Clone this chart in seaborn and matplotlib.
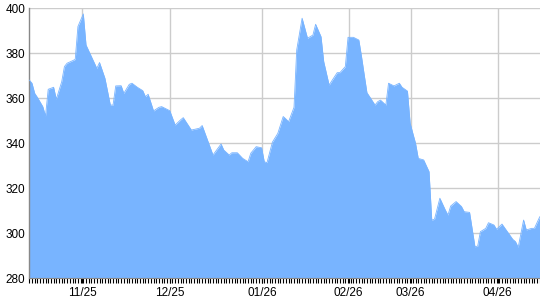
import matplotlib
matplotlib.use("Agg")
import matplotlib.pyplot as plt
import seaborn as sns
import pandas as pd
from matplotlib.ticker import MultipleLocator, FixedLocator

# ---- data (day index along the axis, value) ----
days = [0, 1, 2, 3, 5, 6, 7, 9, 10, 12, 13, 14, 16, 17, 18, 20, 21, 24, 25, 26,
        28, 30, 31, 32, 34, 35, 37, 38, 40, 42, 43, 44, 46, 48, 49, 51, 52, 54, 56, 57,
        60, 63, 64, 68, 71, 72, 74, 75, 77, 79, 81, 82, 84, 86, 87, 88, 90, 92, 94, 95,
        96, 98, 99, 101, 103, 105, 106, 108, 109, 111, 113, 114, 115, 117, 118, 120, 122, 123, 124, 125,
        126, 128, 129, 130, 132, 133, 135, 137, 138, 140, 141, 142, 143, 144, 146, 148, 149, 150, 152, 154,
        155, 156, 158, 160, 161, 163, 165, 166, 167, 169, 170, 172, 173, 175, 177, 179, 180, 181, 183, 184,
        186, 187, 189]
values = [368.1, 366.7, 362.2, 360.4, 356.3, 352.1, 364.0, 364.9, 359.6, 367.4, 374.1, 375.6, 376.7, 377.3, 391.9, 397.5, 383.7, 375.9, 373.3, 375.9,
          368.9, 357.0, 357.0, 365.5, 365.6, 362.2, 366.2, 366.7, 364.9, 363.4, 360.7, 361.8, 354.4, 356.0, 356.3, 355.1, 354.5, 348.1, 350.4, 351.4,
          345.9, 346.7, 347.9, 334.8, 339.7, 337.0, 334.8, 335.8, 335.8, 333.3, 331.8, 335.6, 338.5, 338.0, 331.8, 331.4, 340.5, 344.4, 351.9, 350.8,
          349.6, 356.0, 381.5, 395.6, 386.7, 388.1, 392.9, 387.4, 376.3, 365.9, 369.6, 371.4, 371.4, 374.1, 387.1, 387.1, 385.9, 378.5, 370.4, 362.5,
          360.7, 357.0, 358.5, 359.2, 357.0, 366.7, 365.5, 366.7, 364.9, 363.2, 348.9, 344.4, 340.0, 333.3, 332.6, 327.4, 305.9, 306.2, 315.6, 310.4,
          308.1, 312.1, 314.1, 311.9, 309.6, 309.3, 294.0, 294.3, 300.7, 302.2, 304.7, 303.7, 301.8, 304.1, 300.7, 297.3, 296.3, 293.8, 305.9, 301.5,
          302.2, 302.2, 307.4]

tick_days = [19.6, 52.1, 86.1, 118.2, 141.2, 173.4]
tick_labels = ["11/25", "12/25", "01/26", "02/26", "03/26", "04/26"]
y_ticks = [280, 300, 320, 340, 360, 380, 400]

df = pd.DataFrame({"day": days, "value": values})

sns.set_style("white")
plt.rcParams["font.family"] = ["Liberation Sans", "DejaVu Sans"]

fig = plt.figure(figsize=(5.4, 3.0), dpi=100)
ax = fig.add_axes([29.3 / 540, 21.7 / 300, 510.5 / 540, 270 / 300])

color = "#78b4ff"
ax.fill_between(df["day"], df["value"], 280, color=color, linewidth=0, zorder=2)
sns.lineplot(data=df, x="day", y="value", ax=ax, color=color, linewidth=0.6, zorder=3)

ax.set_xlim(0, 189)
ax.set_ylim(280, 400)

ax.yaxis.set_major_locator(FixedLocator(y_ticks))
ax.set_yticklabels([str(v) for v in y_ticks])
ax.xaxis.set_major_locator(FixedLocator(tick_days))
ax.set_xticklabels(tick_labels)
ax.xaxis.set_minor_locator(MultipleLocator(1))

ax.grid(True, which="major", color="#cccccc", linewidth=1.0, zorder=0)
ax.set_axisbelow(True)

ax.tick_params(axis="y", length=0, pad=3, labelsize=8.5, colors="black")
ax.tick_params(axis="x", which="major", length=3.5, width=0.8, direction="out",
               pad=3, labelsize=8.5, colors="black", color="black")
ax.tick_params(axis="x", which="minor", length=3.5, width=0.8, direction="out",
               color="black")
ax.xaxis.set_ticks_position("bottom")

for s in ["top", "right"]:
    ax.spines[s].set_visible(False)
ax.spines["left"].set_color("#888888")
ax.spines["left"].set_linewidth(1.0)
ax.spines["bottom"].set_color("#888888")
ax.spines["bottom"].set_linewidth(0.8)

ax.set_xlabel("")
ax.set_ylabel("")

fig.savefig("out.png", dpi=100)
